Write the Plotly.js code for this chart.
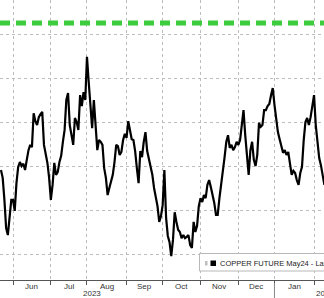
<!DOCTYPE html>
<html>
<head>
<meta charset="utf-8">
<script src="https://cdn.plot.ly/plotly-3.0.1.min.js"></script>
<style>html,body{margin:0;padding:0;background:#fff;}#chart{width:324px;height:298px;}</style>
</head>
<body>
<div id="chart"></div>
<script>
// Trading-day calendar (weekdays) starting date and series values (COPPER FUTURE May24, last price)
var firstDay = '2023-05-23';
var copperPrice = [
  3.791, 3.773, 3.723, 3.659, 3.643, 3.689, 3.723, 3.723, 3.698, 3.761,
  3.798, 3.809, 3.800, 3.805, 3.791, 3.814, 3.836, 3.848, 3.843, 3.920,
  3.902, 3.893, 3.911, 3.918, 3.923, 3.848, 3.825, 3.807, 3.773, 3.723,
  3.757, 3.807, 3.780, 3.786, 3.809, 3.823, 3.855, 3.882, 3.950, 3.966,
  3.893, 3.870, 3.848, 3.909, 3.900, 3.882, 3.961, 3.936, 3.968, 3.950,
  4.048, 3.991, 3.927, 3.886, 3.950, 3.893, 3.836, 3.859, 3.855, 3.848,
  3.795, 3.773, 3.734, 3.750, 3.764, 3.780, 3.809, 3.848, 3.845, 3.825,
  3.832, 3.859, 3.873, 3.864, 3.902, 3.882, 3.861, 3.859, 3.834, 3.795,
  3.761, 3.834, 3.820, 3.855, 3.877, 3.834, 3.814, 3.793, 3.780, 3.750,
  3.730, 3.709, 3.673, 3.686, 3.711, 3.791, 3.682, 3.641, 3.627, 3.595,
  3.632, 3.695, 3.673, 3.655, 3.650, 3.636, 3.643, 3.636, 3.639, 3.643,
  3.620, 3.614, 3.673, 3.650, 3.664, 3.709, 3.727, 3.718, 3.734, 3.727,
  3.757, 3.768, 3.752, 3.734, 3.716, 3.689, 3.689, 3.727, 3.755, 3.791,
  3.820, 3.855, 3.870, 3.841, 3.848, 3.836, 3.843, 3.855, 3.848, 3.859,
  3.893, 3.927, 3.870, 3.825, 3.780, 3.836, 3.855, 3.814, 3.800, 3.825,
  3.898, 3.889, 3.893, 3.927, 3.927, 3.936, 3.941, 3.961, 3.977, 3.939,
  3.909, 3.877, 3.861, 3.848, 3.830, 3.836, 3.825, 3.832, 3.800, 3.780,
  3.789, 3.784, 3.768, 3.757, 3.784, 3.798, 3.859, 3.900, 3.909, 3.893,
  3.911, 3.941, 3.961, 3.893, 3.855, 3.818, 3.802, 3.780, 3.757
];
var referenceLevel = 4.125;
var monthStarts = ['2023-06-01','2023-07-03','2023-08-01','2023-09-01','2023-10-02','2023-11-01','2023-12-01','2024-01-01','2024-02-01'];
var monthLabels = ['Jun','Jul','Aug','Sep','Oct','Nov','Dec','Jan'];
var monthLabelDates = ['2023-06-16','2023-07-17 12:00','2023-08-16 12:00','2023-09-15 12:00','2023-10-17','2023-11-16','2023-12-15 12:00','2024-01-16 12:00'];
var yearLabels = ['2023','2024'];
var gridLevels = [3.6, 3.7, 3.8, 3.9, 4.0, 4.1];
var seriesName = 'COPPER FUTURE May24 - Last Price';

function tradingDays(start, n) {
  var out = [];
  var d = new Date(start + 'T00:00:00Z');
  while (out.length < n) {
    var wd = d.getUTCDay();
    if (wd !== 0 && wd !== 6) out.push(d.toISOString().slice(0, 10));
    d.setUTCDate(d.getUTCDate() + 1);
  }
  return out;
}
var dates = tradingDays(firstDay, copperPrice.length);

var font = 'Liberation Sans, Arial, sans-serif';
var xRange = ['2023-05-22 10:30', '2024-02-08 19:00'];
var H = 280; // plot-area height in px

var traces = [
  {x: xRange, y: [referenceLevel, referenceLevel], type: 'scatter', mode: 'lines',
   line: {color: '#3dcc3d', width: 5, dash: '10px,6px'}, hoverinfo: 'skip', showlegend: false},
  {x: dates, y: copperPrice, type: 'scatter', mode: 'lines', name: seriesName,
   line: {color: '#000000', width: 2.2}, showlegend: false}
];

var annotations = monthLabels.map(function (m, i) {
  return {x: monthLabelDates[i], y: (H-286)/H, xref: 'x', yref: 'paper', text: m, showarrow: false,
          xanchor: 'center', yanchor: 'middle', font: {family: font, size: 8, color: '#333'}};
});
annotations.push({x: 92/324, y: (H-293.5)/H, xref: 'paper', yref: 'paper', text: yearLabels[0], showarrow: false,
  xanchor: 'center', yanchor: 'middle', font: {family: font, size: 8, color: '#333'}});
annotations.push({x: 314/324, y: (H-293.5)/H, xref: 'paper', yref: 'paper', text: yearLabels[1], showarrow: false,
  xanchor: 'left', yanchor: 'middle', font: {family: font, size: 8, color: '#333'}});
annotations.push({x: 218/324, y: (H-263.5)/H, xref: 'paper', yref: 'paper', text: seriesName, showarrow: false,
  xanchor: 'left', yanchor: 'middle', font: {family: font, size: 7.5, color: '#222'}});

var shapes = [
  {type: 'line', xref: 'x', yref: 'paper', x0: '2024-01-01', x1: '2024-01-01', y0: (H-283)/H, y1: (H-300)/H,
   line: {color: '#888', width: 1}},
  {type: 'rect', xref: 'paper', yref: 'paper', x0: 199.5/324, x1: 1.05, y0: (H-271)/H, y1: (H-253.5)/H,
   fillcolor: '#ffffff', line: {color: '#b8b8b8', width: 1}, layer: 'above'},
  {type: 'rect', xref: 'paper', yref: 'paper', x0: 205/324, x1: 207.5/324, y0: (H-265.5)/H, y1: (H-261)/H,
   fillcolor: '#bdbdbd', line: {width: 0}, layer: 'above'},
  {type: 'rect', xref: 'paper', yref: 'paper', x0: 210.5/324, x1: 216/324, y0: (H-266)/H, y1: (H-260.5)/H,
   fillcolor: '#000000', line: {width: 0}, layer: 'above'}
];

var layout = {
  width: 324, height: 298,
  margin: {l: 0, r: 0, t: 0, b: 298 - H, pad: 0},
  paper_bgcolor: '#ffffff', plot_bgcolor: '#ffffff',
  showlegend: false,
  xaxis: {type: 'date', range: xRange, rangebreaks: [{bounds: ['sat', 'mon']}],
    tickmode: 'array', tickvals: monthStarts, showticklabels: false,
    ticks: 'outside', ticklen: 4, tickcolor: '#555', tickwidth: 1,
    showgrid: true, gridcolor: '#bdbdbd', griddash: 'dot', gridwidth: 1,
    showline: true, linecolor: '#555', linewidth: 1, zeroline: false, fixedrange: true},
  yaxis: {range: [3.5409, 4.1773], tickmode: 'array', tickvals: gridLevels, showticklabels: false,
    showgrid: true, gridcolor: '#bdbdbd', griddash: 'dot', gridwidth: 1,
    zeroline: false, showline: false, ticks: '', fixedrange: true},
  annotations: annotations,
  shapes: shapes
};

Plotly.newPlot('chart', traces, layout, {displayModeBar: false, staticPlot: true});
</script>
</body>
</html>
